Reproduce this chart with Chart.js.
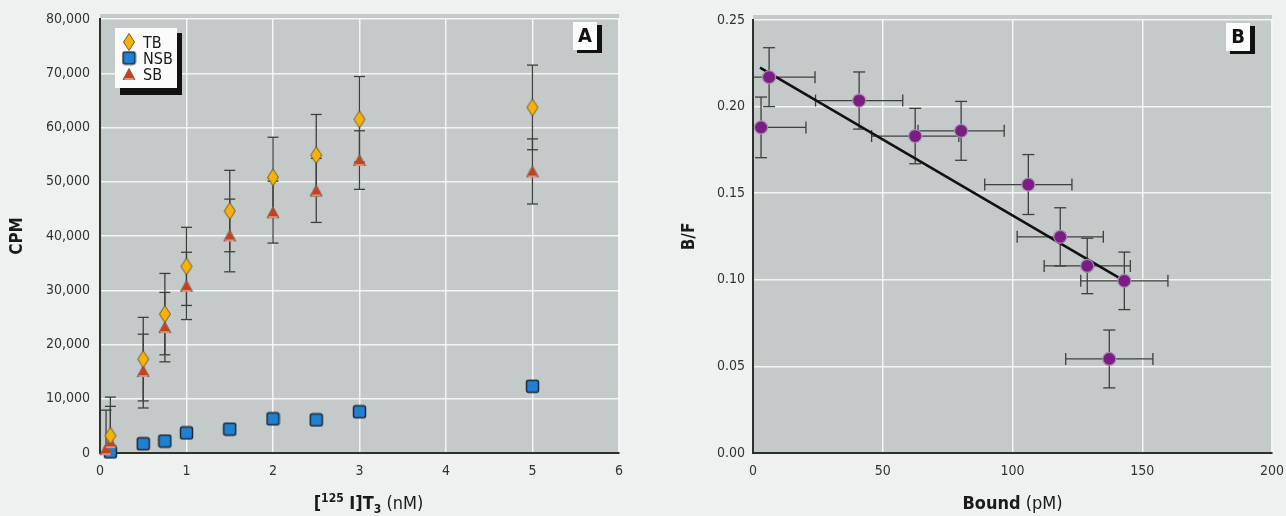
<!DOCTYPE html>
<html>
<head>
<meta charset="utf-8">
<script src="https://cdn.jsdelivr.net/npm/chart.js@4.4.1/dist/chart.umd.min.js"></script>
<style>
    html, body { margin: 0; padding: 0; background: #eef1f0; }
    #wrap { position: relative; width: 1286px; height: 516px; overflow: hidden; }
    #wrap canvas { position: absolute; top: 0; }
    #chartA { left: 0; }
    #chartB { left: 640px; }
</style>
</head>
<body>
<div id="wrap">
    <canvas id="chartA" width="640" height="516"></canvas>
    <canvas id="chartB" width="646" height="516"></canvas>
</div>
<script>
// Panel A: saturation binding, [125I]T3 (nM) vs CPM
const tbX = [0.12, 0.5, 0.75, 1, 1.5, 2, 2.5, 3, 5];
const tbY = [3200, 17300, 25600, 34400, 44600, 50800, 54900, 61500, 63700];
const tbErr = [7100, 7700, 7500, 7200, 7500, 7400, 7500, 7900, 7800];

const nsbX = [0.12, 0.5, 0.75, 1, 1.5, 2, 2.5, 3, 5];
const nsbY = [200, 1700, 2200, 3700, 4400, 6300, 6100, 7600, 12300];

const sbX = [0.07, 0.12, 0.5, 0.75, 1, 1.5, 2, 2.5, 3, 5];
const sbY = [700, 2000, 15100, 23200, 30800, 40100, 44400, 48400, 54000, 51900];
const sbErr = [7200, 6600, 6800, 6400, 6200, 6700, 5700, 5900, 5400, 6000];

const concTicks = [0, 1, 2, 3, 4, 5, 6];
const cpmTicks = [0, 10000, 20000, 30000, 40000, 50000, 60000, 70000, 80000];

// Panel B: Scatchard plot, Bound (pM) vs B/F
const boundX = [3.1, 6.2, 40.9, 62.5, 80.2, 106.1, 118.4, 128.8, 143.1, 137.3];
const bfY = [0.188, 0.217, 0.2035, 0.183, 0.186, 0.155, 0.1248, 0.108, 0.0994, 0.0543];
const boundErr = [17.3, 17.7, 16.8, 16.8, 16.6, 16.8, 16.6, 16.6, 16.8, 16.8];
const bfErr = [0.0175, 0.017, 0.0165, 0.016, 0.017, 0.0173, 0.0168, 0.016, 0.0166, 0.0167];

const fitX = [2.7, 143.1];
const fitY = [0.2225, 0.0994];

const boundTicks = [0, 50, 100, 150, 200];
const bfTicks = [0, 0.05, 0.1, 0.15, 0.2, 0.25];

const FONT = "'Liberation Sans Narrow', 'DejaVu Sans Condensed', 'Liberation Sans', sans-serif";
Chart.defaults.font.family = FONT;
Chart.defaults.color = '#333';

const markerCanvas = (w, h, draw) => {
    const c = document.createElement('canvas');
    c.width = w;
    c.height = h;
    draw(c.getContext('2d'));
    return c;
};

const diamondImg = markerCanvas(14, 20, g => {
    g.beginPath();
    g.moveTo(7, 1.5); g.lineTo(12.5, 10); g.lineTo(7, 18.5); g.lineTo(1.5, 10);
    g.closePath();
    g.fillStyle = '#f7b20a';
    g.fill();
    g.strokeStyle = '#6e5a2a';
    g.lineWidth = 1;
    g.stroke();
});

const squareImg = markerCanvas(15, 15, g => {
    const r = 2, x = 1.5, y = 1.5, s = 12;
    g.beginPath();
    g.moveTo(x + r, y);
    g.arcTo(x + s, y, x + s, y + s, r);
    g.arcTo(x + s, y + s, x, y + s, r);
    g.arcTo(x, y + s, x, y, r);
    g.arcTo(x, y, x + s, y, r);
    g.closePath();
    g.fillStyle = '#1f80d4';
    g.fill();
    g.strokeStyle = '#1d2b36';
    g.lineWidth = 1.5;
    g.stroke();
});

const triangleImg = markerCanvas(14, 14, g => {
    g.beginPath();
    g.moveTo(7, 1.5); g.lineTo(13, 12.5); g.lineTo(1, 12.5);
    g.closePath();
    g.fillStyle = '#c3431d';
    g.fill();
    g.strokeStyle = '#8c5f58';
    g.lineWidth = 1;
    g.stroke();
    g.strokeStyle = '#eaa89a';
    g.lineWidth = 1.5;
    g.beginPath();
    g.moveTo(2.5, 12); g.lineTo(11.5, 12);
    g.stroke();
});

const toPoints = (xs, ys) => xs.map((x, i) => ({ x, y: ys[i] }));

const panelBg = {
    id: 'panelBg',
    beforeDraw(chart) {
        const { ctx, chartArea: a } = chart;
        ctx.save();
        ctx.fillStyle = '#c4caca';
        ctx.fillRect(a.left, a.top - 5, a.right - a.left, a.bottom - a.top + 5);
        ctx.restore();
    }
};

const errorBars = (sets) => ({
    id: 'errorBars',
    beforeDatasetsDraw(chart) {
        const { ctx, chartArea: a, scales: { x, y } } = chart;
        const seg = (x1, y1, x2, y2) => {
            ctx.beginPath();
            ctx.moveTo(x1, y1);
            ctx.lineTo(x2, y2);
            ctx.stroke();
        };
        ctx.save();
        ctx.beginPath();
        ctx.rect(a.left, a.top - 5, a.right - a.left, a.bottom - a.top + 5);
        ctx.clip();
        ctx.strokeStyle = '#3b403c';
        ctx.lineWidth = 1.3;
        sets.forEach(s => {
            s.xs.forEach((xv, i) => {
                const yv = s.ys[i];
                const px = x.getPixelForValue(xv);
                const py = y.getPixelForValue(yv);
                if (s.yerr) {
                    const t = y.getPixelForValue(yv + s.yerr[i]);
                    const b = y.getPixelForValue(yv - s.yerr[i]);
                    seg(px, t, px, b);
                    seg(px - s.cap, t, px + s.cap, t);
                    seg(px - s.cap, b, px + s.cap, b);
                }
                if (s.xerr) {
                    const l = x.getPixelForValue(xv - s.xerr[i]);
                    const r = x.getPixelForValue(xv + s.xerr[i]);
                    seg(l, py, r, py);
                    seg(l, py - s.cap, l, py + s.cap);
                    seg(r, py - s.cap, r, py + s.cap);
                }
            });
        });
        ctx.restore();
    }
});

const drawRuns = (ctx, runs, cx, baseline) => {
    let total = 0;
    runs.forEach(r => {
        ctx.font = r.font;
        r.w = ctx.measureText(r.text).width;
        total += r.w;
    });
    let x = cx - total / 2;
    ctx.textAlign = 'left';
    ctx.textBaseline = 'alphabetic';
    runs.forEach(r => {
        ctx.font = r.font;
        ctx.fillText(r.text, x, baseline + (r.dy || 0));
        x += r.w;
    });
};

const drawLetterBox = (ctx, a, letter) => {
    const bx = a.right - 46, by = a.top + 3;
    ctx.fillStyle = '#111';
    ctx.fillRect(bx + 4, by + 3, 25, 28);
    ctx.fillStyle = '#fbfbfb';
    ctx.fillRect(bx, by, 24, 28);
    ctx.fillStyle = '#111';
    ctx.font = 'bold 20px ' + FONT;
    ctx.textAlign = 'center';
    ctx.textBaseline = 'middle';
    ctx.fillText(letter, bx + 12, by + 15);
};

const drawYTitle = (ctx, text, x, y) => {
    ctx.save();
    ctx.translate(x, y);
    ctx.rotate(-Math.PI / 2);
    ctx.fillStyle = '#1a1a1a';
    ctx.font = 'bold 17px ' + FONT;
    ctx.textAlign = 'center';
    ctx.textBaseline = 'middle';
    ctx.fillText(text, 0, 0);
    ctx.restore();
};

const decorA = {
    id: 'decorA',
    afterDraw(chart) {
        const { ctx, chartArea: a } = chart;
        ctx.save();
        // legend box with shadow
        const lx = a.left + 15, ly = a.top + 9;
        ctx.fillStyle = '#111';
        ctx.fillRect(lx + 5, ly + 5, 62, 62);
        ctx.fillStyle = '#fbfbfb';
        ctx.fillRect(lx, ly, 62, 60);
        const items = [
            { img: diamondImg, label: 'TB' },
            { img: squareImg, label: 'NSB' },
            { img: triangleImg, label: 'SB' }
        ];
        ctx.font = '16px ' + FONT;
        ctx.textAlign = 'left';
        ctx.textBaseline = 'alphabetic';
        items.forEach((it, i) => {
            const cy = ly + 14 + i * 16;
            ctx.drawImage(it.img, lx + 14 - it.img.width / 2, cy - it.img.height / 2);
            ctx.fillStyle = '#1a1a1a';
            ctx.fillText(it.label, lx + 28, cy + 6);
        });
        drawLetterBox(ctx, a, 'A');
        drawYTitle(ctx, 'CPM', 18, (a.top + a.bottom) / 2);
        ctx.fillStyle = '#1a1a1a';
        drawRuns(ctx, [
            { text: '[', font: 'bold 18px ' + FONT },
            { text: '125', font: 'bold 12px ' + FONT, dy: -7 },
            { text: ' I]T', font: 'bold 18px ' + FONT },
            { text: '3', font: 'bold 12px ' + FONT, dy: 4 },
            { text: ' (nM)', font: '18px ' + FONT }
        ], (a.left + a.right) / 2 + 9, 509);
        ctx.restore();
    }
};

const decorB = {
    id: 'decorB',
    afterDraw(chart) {
        const { ctx, chartArea: a } = chart;
        ctx.save();
        drawLetterBox(ctx, a, 'B');
        drawYTitle(ctx, 'B/F', 50, (a.top + a.bottom) / 2);
        ctx.fillStyle = '#1a1a1a';
        drawRuns(ctx, [
            { text: 'Bound', font: 'bold 18px ' + FONT },
            { text: ' (pM)', font: '18px ' + FONT }
        ], (a.left + a.right) / 2, 509);
        ctx.restore();
    }
};

const gridStyle = { color: 'rgba(255,255,255,0.8)', lineWidth: 1.5, drawTicks: false };
const borderStyle = { display: true, color: '#2e302c', width: 2 };
const tickFont = { size: 14 };

const fitX_axis = (h) => (s) => {
    s.height = h;
    s.paddingLeft = 0;
    s.paddingRight = 0;
};

new Chart(document.getElementById('chartA'), {
    type: 'scatter',
    data: {
        datasets: [
            { label: 'TB', data: toPoints(tbX, tbY), pointStyle: diamondImg, clip: false, order: 1 },
            { label: 'NSB', data: toPoints(nsbX, nsbY), pointStyle: squareImg, clip: false, order: 3 },
            { label: 'SB', data: toPoints(sbX, sbY), pointStyle: triangleImg, clip: false, order: 2 }
        ]
    },
    options: {
        responsive: false,
        animation: false,
        layout: { padding: { top: 19, right: 21, left: 0, bottom: 0 } },
        plugins: { legend: { display: false }, tooltip: { enabled: false } },
        scales: {
            x: {
                type: 'linear', min: 0, max: 6,
                afterBuildTicks: s => { s.ticks = concTicks.map(v => ({ value: v })); },
                afterFit: fitX_axis(63),
                grid: gridStyle, border: borderStyle,
                ticks: { font: tickFont, padding: 10, color: '#333' }
            },
            y: {
                type: 'linear', min: 0, max: 80000,
                afterBuildTicks: s => { s.ticks = cpmTicks.map(v => ({ value: v })); },
                afterFit: s => { s.width = 100; },
                grid: gridStyle, border: borderStyle,
                ticks: { font: tickFont, padding: 10, color: '#333', callback: v => v.toLocaleString('en-US') }
            }
        }
    },
    plugins: [
        panelBg,
        errorBars([
            { xs: tbX, ys: tbY, yerr: tbErr, cap: 5.5 },
            { xs: sbX, ys: sbY, yerr: sbErr, cap: 5.5 }
        ]),
        decorA
    ]
});

new Chart(document.getElementById('chartB'), {
    type: 'scatter',
    data: {
        datasets: [
            {
                type: 'line', label: 'fit', data: toPoints(fitX, fitY),
                borderColor: '#121212', borderWidth: 2.6, pointRadius: 0, fill: false, order: 2
            },
            {
                label: 'B/F', data: toPoints(boundX, bfY), pointStyle: 'circle', pointRadius: 6.5,
                backgroundColor: '#7a1d85', borderColor: '#a88cab', borderWidth: 1.2, clip: false, order: 1
            }
        ]
    },
    options: {
        responsive: false,
        animation: false,
        layout: { padding: { top: 20, right: 14, left: 0, bottom: 0 } },
        plugins: { legend: { display: false }, tooltip: { enabled: false } },
        scales: {
            x: {
                type: 'linear', min: 0, max: 200,
                afterBuildTicks: s => { s.ticks = boundTicks.map(v => ({ value: v })); },
                afterFit: fitX_axis(63),
                grid: gridStyle, border: borderStyle,
                ticks: { font: tickFont, padding: 10, color: '#333' }
            },
            y: {
                type: 'linear', min: 0, max: 0.25,
                afterBuildTicks: s => { s.ticks = bfTicks.map(v => ({ value: v })); },
                afterFit: s => { s.width = 113; },
                grid: gridStyle, border: borderStyle,
                ticks: { font: tickFont, padding: 8, color: '#333', callback: v => v.toFixed(2) }
            }
        }
    },
    plugins: [
        panelBg,
        errorBars([
            { xs: boundX, ys: bfY, yerr: bfErr, xerr: boundErr, cap: 6 }
        ]),
        decorB
    ]
});
</script>
</body>
</html>
